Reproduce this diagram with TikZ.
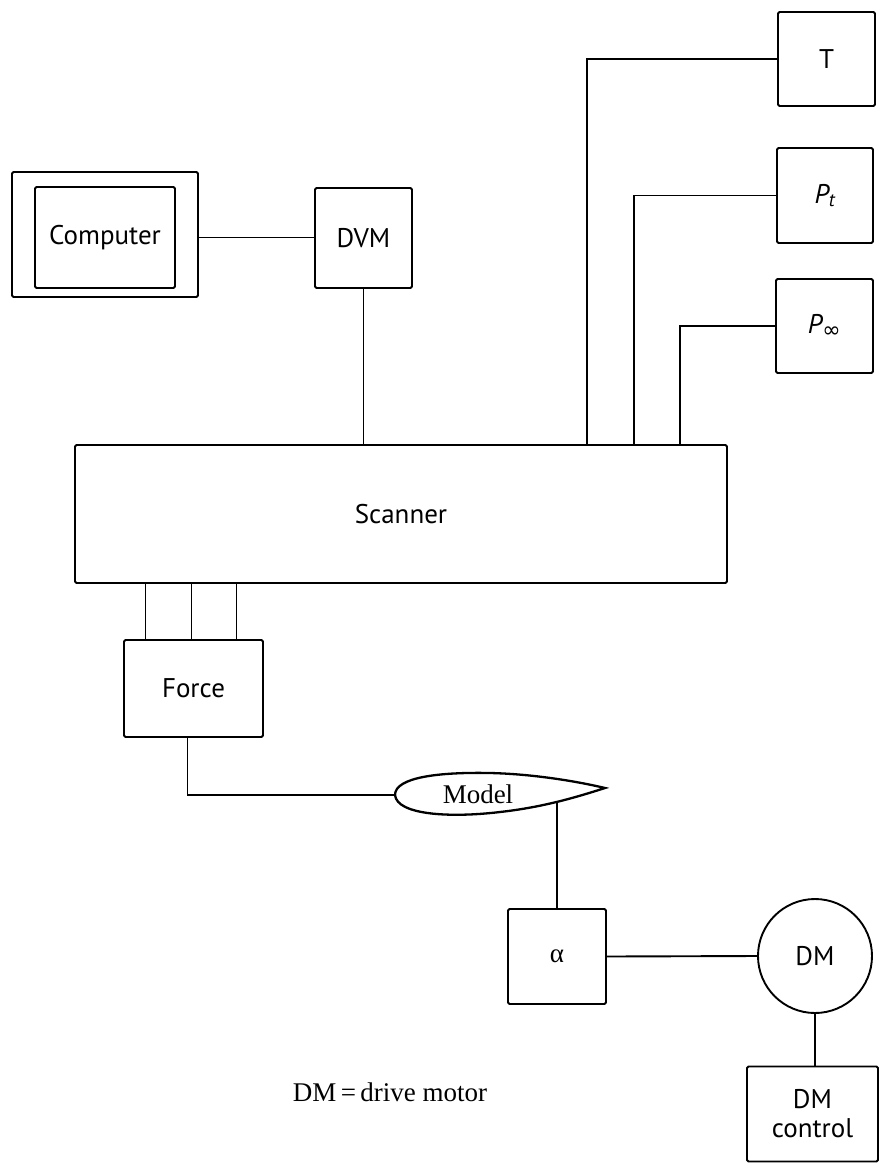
\documentclass[tikz,border=0pt]{standalone}
\usepackage{fontspec}
\setmainfont{Liberation Serif}
\newfontfamily\boxfont{PT Sans}
\newfontfamily\symfont{DejaVu Sans}
\usepackage{tikz}
\usetikzlibrary{positioning}
\tikzset{
  % --- instrument boxes ------------------------------------------------------
  unit/.style={rectangle,draw,line width=1.9pt,rounded corners=1.5pt,inner sep=0pt,
               font=\boxfont\fontsize{27}{31}\selectfont,align=center},
  motor/.style={circle,draw,line width=1.9pt,inner sep=0pt,minimum size=114pt,
                font=\boxfont\fontsize{27}{31}\selectfont},
  % --- wiring ----------------------------------------------------------------
  wire/.style={line width=1.9pt},
  foil/.style={line width=2.3pt},
}

\begin{document}
\begin{tikzpicture}[x=1pt,y=-1pt]
  \useasboundingbox (0,0) rectangle (881,1163);

  % ---- data acquisition ----
  \node[unit,minimum width=186pt,minimum height=125pt] (comp) at (105,234.5) {};
  \node[unit,minimum width=140pt,minimum height=101pt] (compin) at (105,237.5)
        {\raisebox{5pt}{Computer}};
  \node[unit,minimum width=97pt,minimum height=100pt]  (dvm)  at (363.5,238) {DVM};
  \node[unit,minimum width=652pt,minimum height=138pt] (scan) at (401,514) {Scanner};
  % ---- tunnel conditions ----
  \node[unit,minimum width=97pt,minimum height=94pt] (temp) at (826.5,59)  {T};
  \node[unit,minimum width=96pt,minimum height=95pt] (ptot) at (825,195.5)
        {\itshape P\textsubscript{t}};
  \node[unit,minimum width=97pt,minimum height=94pt] (pinf) at (824.5,326)
        {\itshape P\textsubscript{\upshape\symfont\fontsize{22}{26}\selectfont ∞}};
  \coordinate (tapT) at (587,445);
  \coordinate (tapP) at (634,445);
  \coordinate (tapQ) at (680,445);
  % ---- model side ----
  \node[unit,minimum width=139pt,minimum height=97pt] (force) at (193.5,688.5) {Force};
  \coordinate (nose) at (395,795);
  \coordinate (tail) at (605,788);
  \coordinate (keel) at (557,802);
  \node[font=\fontsize{27}{31}\selectfont,inner sep=0pt] (model) at (478,794) {Model};
  \node[unit,minimum width=98pt,minimum height=95pt] (alpha) at (557,956.5)
        {\rmfamily α};
  \node[motor] (dm) at (815,956) {DM};
  \node[unit,minimum width=131pt,minimum height=95pt] (dmc) at (812.5,1114) {DM\\[-2pt]control};
  \node[font=\fontsize{27}{31}\selectfont] (note) at (390,1092) {DM\,=\,drive motor};

  % ---- the airfoil ----
  \draw[foil] (nose) .. controls (395,777) and (440,772) .. (490,773)
        .. controls (535,774) and (580,782) .. (tail)
        .. controls (580,796) and (545,807) .. (500,812)
        .. controls (450,818) and (397,815) .. (nose);

  \draw[wire] (compin.east -| comp.east) -- (compin.east -| dvm.west);
  \draw[wire] (dvm.south) -- (dvm.south |- scan.north);
  \draw[wire] (temp.west) -| (tapT);
  \draw[wire] (ptot.west) -| (tapP);
  \draw[wire] (pinf.west) -| (tapQ);
  \foreach \dx in {-48,-2,43}
    \draw[wire] ([xshift=\dx pt]force.north) -- ([xshift=\dx pt]force.north |- scan.south);
  \draw[wire] ([xshift=-6pt]force.south) |- (nose);
  \draw[wire] (keel) -- (alpha.north);
  \draw[wire] (alpha.east) -- (dm.west);
  \draw[wire] (dm.south) -- (dm.south |- dmc.north);
\end{tikzpicture}
\end{document}
